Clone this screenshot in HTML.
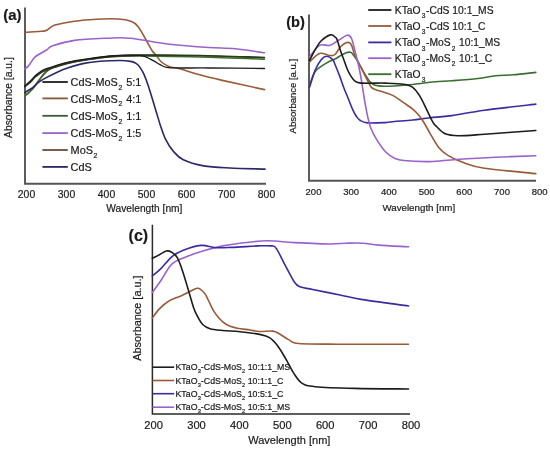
<!DOCTYPE html>
<html><head><meta charset="utf-8"><style>
html,body{margin:0;padding:0;background:#fff;width:550px;height:449px;overflow:hidden}
svg{display:block;will-change:transform}
text{font-family:"Liberation Sans",sans-serif;fill:#1a1a1a;stroke:#1a1a1a;stroke-width:0.2px}
</style></head><body>
<svg width="550" height="449" viewBox="0 0 550 449">
<path d="M25,7.5 V183.8 H266" stroke="#555" stroke-width="1.9" fill="none"/>
<path d="M309,14.5 V180.8 H536" stroke="#555" stroke-width="1.9" fill="none"/>
<path d="M152.4,224.8 V414 H410" stroke="#2a2a2a" stroke-width="1.5" fill="none"/>
<path d="M24.8,32.3 C27.6,32.1 38.2,31.5 41.8,31.2 C45.4,30.9 44.0,31.5 46.2,30.5 C48.4,29.5 50.2,26.7 54.9,25.1 C59.6,23.6 67.6,22.2 74.5,21.2 C81.4,20.2 89.1,19.6 96.4,19.2 C103.7,18.8 112.4,18.7 118.2,19.0 C124.0,19.3 127.7,20.0 131.0,21.2 C134.3,22.4 135.5,23.3 138.0,26.4 C140.5,29.4 143.5,35.5 145.8,39.5 C148.1,43.5 150.3,47.9 152.0,50.5 C153.7,53.1 154.5,53.4 156.1,55.3 C157.7,57.2 159.2,60.1 161.4,62.0 C163.6,63.9 166.4,65.6 169.5,66.7 C172.6,67.8 175.6,67.5 180.0,68.7 C184.4,69.9 188.8,71.8 195.9,73.8 C203.0,75.8 210.9,77.8 222.3,80.4 C233.7,83.0 257.5,88.1 264.5,89.6" stroke="#9a5a38" stroke-width="1.6" fill="none" stroke-linecap="round" stroke-linejoin="round"/>
<path d="M24.8,69.0 C25.4,68.4 26.9,67.6 28.7,65.6 C30.5,63.5 32.4,59.3 35.4,56.7 C38.4,54.1 43.6,51.8 46.5,50.0 C49.4,48.2 48.0,47.4 52.7,45.8 C57.4,44.2 65.4,41.7 74.5,40.4 C83.6,39.1 98.0,38.6 107.3,38.2 C116.5,37.8 119.6,37.2 130.0,38.2 C140.4,39.2 156.3,42.8 169.5,44.3 C182.7,45.8 198.0,46.8 209.0,47.5 C220.0,48.2 226.2,47.9 235.5,48.8 C244.8,49.7 259.7,52.1 264.5,52.7" stroke="#9a62cc" stroke-width="1.6" fill="none" stroke-linecap="round" stroke-linejoin="round"/>
<path d="M24.8,95.5 C25.5,94.9 27.6,93.2 29.0,92.0 C30.4,90.8 31.9,89.5 33.1,88.0 C34.4,86.5 35.3,85.0 36.5,83.3 C37.7,81.6 38.9,79.8 40.4,77.8 C41.9,75.8 44.0,73.2 45.8,71.5 C47.6,69.8 49.3,68.8 51.3,67.8 C53.3,66.8 55.3,66.1 58.0,65.2 C60.7,64.3 63.3,63.4 67.6,62.5 C71.9,61.6 76.9,60.6 84.0,59.6 C91.1,58.6 100.7,56.9 110.0,56.2 C119.3,55.5 125.0,55.3 140.0,55.2 C155.0,55.1 179.2,55.4 200.0,55.8 C220.8,56.2 253.8,57.5 264.5,57.8" stroke="#85583a" stroke-width="1.3" fill="none" stroke-linecap="round" stroke-linejoin="round"/>
<path d="M24.8,96.2 C25.5,95.6 27.6,93.9 29.0,92.6 C30.4,91.3 31.9,89.9 33.1,88.5 C34.4,87.1 35.3,85.6 36.5,84.0 C37.7,82.4 38.9,80.7 40.4,78.8 C41.9,76.9 44.0,74.1 45.8,72.4 C47.6,70.7 49.3,69.5 51.3,68.4 C53.3,67.3 55.3,66.5 58.0,65.6 C60.7,64.7 63.3,63.9 67.6,63.0 C71.9,62.1 76.9,61.0 84.0,60.0 C91.1,59.0 100.7,57.5 110.0,56.8 C119.3,56.1 125.0,56.0 140.0,56.0 C155.0,56.0 179.2,56.5 200.0,57.0 C220.8,57.5 253.8,58.8 264.5,59.2" stroke="#3a6e30" stroke-width="1.5" fill="none" stroke-linecap="round" stroke-linejoin="round"/>
<path d="M24.8,86.8 C25.8,85.9 29.2,83.2 30.9,81.6 C32.6,80.0 33.4,78.6 34.9,77.2 C36.4,75.8 38.2,74.4 40.0,73.2 C41.8,72.0 43.0,71.3 45.8,70.2 C48.6,69.1 53.1,67.7 56.7,66.6 C60.3,65.5 63.0,64.5 67.6,63.4 C72.1,62.3 76.9,61.3 84.0,60.2 C91.1,59.1 100.7,57.4 110.0,56.6 C119.3,55.8 125.0,55.4 140.0,55.2 C155.0,55.0 179.2,55.1 200.0,55.5 C220.8,55.9 253.8,57.2 264.5,57.5" stroke="#2e3a20" stroke-width="1.7" fill="none" stroke-linecap="round" stroke-linejoin="round"/>
<path d="M24.8,85.8 C25.8,84.9 29.2,82.0 30.9,80.4 C32.6,78.8 33.4,77.4 34.9,76.0 C36.4,74.6 38.2,73.2 40.0,72.0 C41.8,70.8 43.0,70.0 45.8,68.9 C48.6,67.8 53.1,66.5 56.7,65.4 C60.3,64.3 63.0,63.3 67.6,62.3 C72.1,61.3 76.9,60.4 84.0,59.4 C91.1,58.4 102.3,56.7 110.0,56.0 C117.7,55.3 124.5,55.1 130.0,55.1 C135.4,55.1 138.8,54.9 142.7,55.8 C146.6,56.7 150.5,59.2 153.4,60.7 C156.3,62.2 157.9,63.6 160.1,64.7 C162.3,65.8 163.5,66.9 166.8,67.4 C170.1,68.0 173.0,67.9 180.0,68.0 C187.0,68.1 194.9,67.9 209.0,68.0 C223.1,68.1 255.2,68.4 264.5,68.5" stroke="#1c1c1c" stroke-width="1.3" fill="none" stroke-linecap="round" stroke-linejoin="round"/>
<path d="M24.8,92.6 C25.4,92.2 27.2,91.0 28.5,90.2 C29.8,89.4 31.1,88.9 32.7,87.6 C34.3,86.3 36.0,84.2 38.2,82.6 C40.4,81.0 42.7,79.6 45.8,77.9 C48.9,76.2 53.1,74.0 56.7,72.4 C60.3,70.8 63.0,69.6 67.6,68.1 C72.1,66.6 78.6,64.5 84.0,63.4 C89.4,62.3 94.0,61.8 100.0,61.3 C106.0,60.8 114.9,60.5 120.0,60.5 C125.1,60.5 128.0,60.9 130.7,61.4 C133.4,61.9 134.4,62.4 136.0,63.4 C137.6,64.4 138.7,65.5 140.0,67.4 C141.3,69.3 142.8,71.6 144.1,74.6 C145.4,77.6 146.7,81.1 148.1,85.3 C149.5,89.5 151.3,95.4 152.7,100.0 C154.1,104.6 155.2,108.5 156.5,112.7 C157.8,116.9 158.9,121.0 160.4,125.4 C161.9,129.8 163.4,134.9 165.5,139.2 C167.6,143.4 170.0,147.5 173.0,150.9 C176.0,154.3 178.2,157.3 183.3,159.8 C188.4,162.3 195.8,164.5 203.6,165.9 C211.4,167.3 219.8,167.5 230.0,168.0 C240.2,168.5 259.2,168.9 265.0,169.1" stroke="#2a2868" stroke-width="1.6" fill="none" stroke-linecap="round" stroke-linejoin="round"/>
<path d="M309.4,86.0 C310.4,83.6 312.3,75.4 315.2,71.5 C318.1,67.6 323.5,64.9 326.8,62.8 C330.1,60.7 332.7,60.2 335.0,59.0 C337.3,57.8 338.8,56.6 340.6,55.6 C342.5,54.6 344.4,53.4 346.1,52.8 C347.8,52.2 349.5,52.0 350.6,52.2 C351.7,52.5 351.9,53.2 352.8,54.3 C353.7,55.4 354.9,56.8 356.2,58.9 C357.5,61.0 359.1,64.1 360.6,66.7 C362.1,69.3 363.6,72.1 365.1,74.5 C366.6,76.9 367.9,79.4 369.5,81.2 C371.1,83.0 372.4,84.5 375.0,85.3 C377.6,86.1 381.8,86.2 385.0,86.3 C388.2,86.4 389.9,86.3 394.5,86.0 C399.1,85.7 406.8,85.1 412.7,84.5 C418.6,83.9 423.5,82.9 430.0,82.3 C436.5,81.7 443.8,81.3 451.8,80.7 C459.8,80.1 470.7,79.3 478.0,78.5 C485.3,77.7 489.7,76.3 495.5,75.7 C501.3,75.1 506.2,75.3 512.9,74.8 C519.6,74.2 532.0,72.8 535.8,72.4" stroke="#3a6e30" stroke-width="1.6" fill="none" stroke-linecap="round" stroke-linejoin="round"/>
<path d="M309.4,87.5 C310.4,84.6 313.3,74.7 315.2,70.1 C317.1,65.5 319.1,62.2 321.0,59.9 C322.9,57.6 324.9,56.3 326.8,56.3 C328.7,56.2 331.2,58.2 332.6,59.6 C334.0,61.0 333.9,61.8 335.0,64.5 C336.1,67.2 338.0,71.7 339.5,75.6 C341.0,79.5 342.6,84.7 343.9,88.0 C345.1,91.3 345.5,91.9 347.0,95.5 C348.5,99.1 351.1,106.1 352.7,109.6 C354.3,113.1 355.3,114.7 356.5,116.5 C357.7,118.3 358.2,119.2 360.0,120.3 C361.8,121.4 363.1,122.5 367.3,122.9 C371.6,123.3 381.0,122.8 385.5,122.6 C390.0,122.4 390.0,121.9 394.5,121.5 C399.0,121.1 406.8,120.6 412.7,120.0 C418.6,119.4 423.5,118.5 430.0,117.8 C436.5,117.1 442.7,116.9 451.8,115.6 C460.9,114.3 470.5,112.1 484.5,110.2 C498.5,108.3 527.2,105.1 535.8,104.1" stroke="#3a2ca0" stroke-width="1.6" fill="none" stroke-linecap="round" stroke-linejoin="round"/>
<path d="M309.4,62.1 C311.1,60.6 316.1,54.5 319.5,53.4 C322.9,52.3 327.1,55.3 329.7,55.5 C332.3,55.7 333.2,56.0 335.0,54.5 C336.8,53.0 338.8,48.7 340.6,46.7 C342.5,44.8 344.6,43.4 346.1,42.8 C347.6,42.1 348.6,42.3 349.5,42.8 C350.4,43.3 350.8,43.5 351.7,45.6 C352.6,47.7 353.7,52.5 355.0,55.6 C356.3,58.8 358.0,61.5 359.5,64.5 C361.0,67.5 362.5,70.4 364.0,73.4 C365.5,76.4 367.1,79.9 368.4,82.3 C369.7,84.7 370.4,86.3 371.7,87.6 C373.0,88.9 374.1,89.2 376.4,90.0 C378.7,90.8 382.5,91.6 385.5,92.7 C388.5,93.8 391.5,94.7 394.5,96.4 C397.5,98.1 400.6,100.6 403.6,102.7 C406.6,104.8 410.3,107.1 412.7,109.1 C415.1,111.1 416.4,112.3 418.2,114.5 C420.0,116.7 421.6,118.9 423.6,122.0 C425.6,125.1 427.5,129.1 430.0,133.3 C432.5,137.5 435.8,143.8 438.7,147.4 C441.6,151.0 443.5,152.6 447.5,155.1 C451.5,157.6 456.5,160.1 462.7,162.3 C468.9,164.5 472.3,166.3 484.5,168.2 C496.7,170.1 527.2,172.7 535.8,173.6" stroke="#9a5a38" stroke-width="1.6" fill="none" stroke-linecap="round" stroke-linejoin="round"/>
<path d="M309.4,57.0 C311.1,55.1 316.1,47.3 319.5,45.4 C322.9,43.5 326.5,46.2 329.7,45.4 C332.9,44.5 335.6,42.0 338.5,40.3 C341.4,38.6 345.0,35.5 347.2,35.2 C349.4,34.9 350.2,35.9 351.5,38.5 C352.8,41.1 353.9,46.8 355.0,51.1 C356.1,55.4 357.4,59.9 358.4,64.5 C359.4,69.2 360.5,74.9 361.2,79.0 C361.9,83.1 362.1,84.6 362.8,89.0 C363.5,93.4 364.6,100.7 365.5,105.5 C366.4,110.3 367.1,114.2 368.0,118.0 C368.9,121.8 369.5,124.7 370.9,128.2 C372.3,131.7 374.0,135.2 376.4,139.1 C378.8,143.0 382.5,148.6 385.5,151.8 C388.5,155.0 391.5,156.8 394.5,158.2 C397.5,159.6 397.7,159.9 403.6,160.5 C409.5,161.1 421.2,161.8 430.0,161.6 C438.8,161.4 445.3,160.2 456.2,159.5 C467.1,158.8 482.2,157.9 495.5,157.3 C508.8,156.7 529.1,156.0 535.8,155.7" stroke="#9a62cc" stroke-width="1.6" fill="none" stroke-linecap="round" stroke-linejoin="round"/>
<path d="M309.4,60.6 C310.4,58.8 313.3,53.0 315.2,49.7 C317.1,46.4 318.4,43.5 321.0,41.0 C323.6,38.5 328.1,35.5 330.5,34.9 C332.9,34.3 334.4,36.5 335.5,37.4 C336.6,38.2 336.3,37.7 337.2,40.0 C338.1,42.3 339.5,47.8 340.6,51.1 C341.7,54.4 342.8,57.0 343.9,60.0 C345.0,63.0 346.1,66.4 347.2,69.0 C348.3,71.6 349.3,73.6 350.6,75.6 C351.9,77.6 353.5,80.0 355.0,81.2 C356.5,82.4 356.9,82.6 359.5,82.9 C362.1,83.2 366.2,83.2 370.5,83.2 C374.8,83.2 380.0,82.9 385.5,83.1 C391.0,83.3 399.1,83.5 403.6,84.2 C408.1,84.9 410.0,85.3 412.7,87.3 C415.4,89.3 417.6,92.5 420.0,96.4 C422.4,100.3 425.2,106.7 427.3,110.9 C429.4,115.1 431.2,119.2 432.7,121.8 C434.2,124.4 434.4,124.5 436.5,126.5 C438.6,128.5 441.7,132.3 445.3,133.8 C448.9,135.3 451.9,135.6 458.4,135.7 C464.9,135.8 471.6,135.1 484.5,134.2 C497.4,133.3 527.2,131.1 535.8,130.5" stroke="#1c1c1c" stroke-width="1.6" fill="none" stroke-linecap="round" stroke-linejoin="round"/>
<path d="M152.3,292.5 C153.7,290.5 157.7,285.2 160.9,280.5 C164.2,275.8 167.6,268.1 171.8,264.1 C176.1,260.2 181.0,259.1 186.4,256.8 C191.8,254.5 198.4,252.3 204.5,250.5 C210.6,248.7 216.8,247.1 222.7,245.9 C228.6,244.7 232.6,244.0 240.0,243.2 C247.4,242.3 258.2,240.9 267.3,240.8 C276.4,240.7 284.1,242.1 294.5,242.6 C304.9,243.1 321.4,243.9 330.0,244.0 C338.6,244.1 340.9,243.3 346.4,243.2 C351.8,243.1 357.2,242.9 362.7,243.2 C368.1,243.5 371.5,244.5 379.1,245.1 C386.8,245.7 403.7,246.5 408.6,246.8" stroke="#9a62cc" stroke-width="1.6" fill="none" stroke-linecap="round" stroke-linejoin="round"/>
<path d="M152.3,275.9 C153.7,274.7 157.7,271.8 160.9,268.6 C164.2,265.4 168.2,259.8 171.8,256.8 C175.4,253.8 177.8,252.4 182.7,250.5 C187.5,248.6 195.4,245.9 200.9,245.4 C206.4,244.9 210.3,247.4 215.5,247.7 C220.7,248.0 224.7,247.7 231.8,247.4 C238.9,247.1 251.5,246.2 258.2,245.9 C264.9,245.7 268.8,245.5 271.8,245.9 C274.8,246.3 274.1,245.3 276.4,248.6 C278.7,251.9 282.5,260.3 285.5,265.9 C288.5,271.5 292.1,278.8 294.5,282.3 C296.9,285.8 297.0,285.6 300.0,286.8 C303.0,288.0 306.0,288.1 312.7,289.5 C319.4,290.9 331.7,293.3 340.0,295.0 C348.3,296.7 351.3,297.8 362.7,299.6 C374.1,301.4 401.0,304.9 408.6,306.0" stroke="#3a2ca0" stroke-width="1.6" fill="none" stroke-linecap="round" stroke-linejoin="round"/>
<path d="M152.3,318.2 C153.4,316.7 156.4,311.9 159.1,309.1 C161.8,306.3 164.6,303.7 168.2,301.5 C171.8,299.3 177.0,297.7 180.9,295.9 C184.8,294.1 188.9,291.8 191.8,290.5 C194.7,289.2 196.1,287.9 198.2,288.3 C200.3,288.8 202.8,291.2 204.5,293.2 C206.2,295.1 206.7,297.1 208.2,300.0 C209.7,302.9 211.8,307.9 213.6,310.9 C215.4,313.9 217.0,315.9 219.1,318.2 C221.2,320.5 223.4,322.8 226.4,324.5 C229.4,326.2 233.4,327.3 237.3,328.2 C241.2,329.1 246.3,329.4 250.0,330.0 C253.7,330.6 255.8,331.3 259.6,331.5 C263.4,331.7 269.4,330.7 272.7,331.1 C276.0,331.5 276.6,332.2 279.3,333.7 C282.0,335.2 285.8,338.3 289.1,339.9 C292.4,341.5 290.7,342.8 298.9,343.5 C307.1,344.2 319.9,344.1 338.2,344.2 C356.5,344.3 396.8,344.2 408.5,344.2" stroke="#9a5a38" stroke-width="1.6" fill="none" stroke-linecap="round" stroke-linejoin="round"/>
<path d="M152.3,258.3 C153.1,257.9 155.0,257.1 157.3,255.9 C159.7,254.7 164.0,251.6 166.4,251.0 C168.8,250.4 170.0,251.2 171.8,252.3 C173.6,253.4 175.5,254.5 177.3,257.7 C179.1,260.9 180.9,266.1 182.7,271.4 C184.5,276.7 186.4,283.4 188.2,289.5 C190.0,295.6 192.1,303.3 193.6,307.7 C195.1,312.1 195.8,313.2 197.3,316.0 C198.8,318.8 200.6,322.4 202.7,324.5 C204.8,326.6 206.7,327.7 210.0,328.7 C213.3,329.7 217.7,330.0 222.7,330.5 C227.7,331.0 233.8,331.1 240.0,331.7 C246.2,332.3 254.7,333.4 259.6,334.4 C264.5,335.4 266.5,335.7 269.5,337.6 C272.5,339.5 274.9,342.2 277.6,345.8 C280.3,349.4 283.1,354.3 285.8,358.9 C288.5,363.5 291.3,369.5 294.0,373.6 C296.7,377.7 298.6,381.2 302.2,383.4 C305.8,385.6 306.6,385.9 315.3,386.7 C324.0,387.5 339.0,388.0 354.5,388.4 C370.0,388.8 399.5,388.9 408.5,389.0" stroke="#1c1c1c" stroke-width="1.6" fill="none" stroke-linecap="round" stroke-linejoin="round"/>
<line x1="42.4" y1="82" x2="67.8" y2="82" stroke="#1c1c1c" stroke-width="1.8"/>
<line x1="42.4" y1="98.4" x2="67.8" y2="98.4" stroke="#85583a" stroke-width="1.8"/>
<line x1="42.4" y1="115.8" x2="67.8" y2="115.8" stroke="#3c5a34" stroke-width="1.8"/>
<line x1="42.4" y1="133.1" x2="67.8" y2="133.1" stroke="#9a62cc" stroke-width="1.8"/>
<line x1="42.4" y1="150" x2="67.8" y2="150" stroke="#6a4a3a" stroke-width="1.8"/>
<line x1="42.4" y1="166.9" x2="67.8" y2="166.9" stroke="#2a2868" stroke-width="1.8"/>
<line x1="368.2" y1="10" x2="391.4" y2="10" stroke="#1c1c1c" stroke-width="1.8"/>
<line x1="368.2" y1="26" x2="391.4" y2="26" stroke="#9a5a38" stroke-width="1.8"/>
<line x1="368.2" y1="42.4" x2="391.4" y2="42.4" stroke="#3a2ca0" stroke-width="1.8"/>
<line x1="368.2" y1="58.2" x2="391.4" y2="58.2" stroke="#9a62cc" stroke-width="1.8"/>
<line x1="368.2" y1="74.2" x2="391.4" y2="74.2" stroke="#3a6e30" stroke-width="1.8"/>
<line x1="152.5" y1="367.2" x2="174.2" y2="367.2" stroke="#1c1c1c" stroke-width="1.6"/>
<line x1="152.5" y1="380.5" x2="174.2" y2="380.5" stroke="#9a5a38" stroke-width="1.6"/>
<line x1="152.5" y1="393.7" x2="174.2" y2="393.7" stroke="#3a2ca0" stroke-width="1.6"/>
<line x1="152.5" y1="407.2" x2="174.2" y2="407.2" stroke="#9a62cc" stroke-width="1.6"/>
<text x="70.6" y="86.2" font-size="10.9" text-anchor="start" font-weight="normal" >CdS-MoS<tspan font-size="6.98" dx="0.6" dy="3.81">2</tspan><tspan dx="0.8" dy="-3.81"> 5:1</tspan></text>
<text x="70.6" y="102.60000000000001" font-size="10.9" text-anchor="start" font-weight="normal" >CdS-MoS<tspan font-size="6.98" dx="0.6" dy="3.81">2</tspan><tspan dx="0.8" dy="-3.81"> 4:1</tspan></text>
<text x="70.6" y="120.0" font-size="10.9" text-anchor="start" font-weight="normal" >CdS-MoS<tspan font-size="6.98" dx="0.6" dy="3.81">2</tspan><tspan dx="0.8" dy="-3.81"> 1:1</tspan></text>
<text x="70.6" y="137.29999999999998" font-size="10.9" text-anchor="start" font-weight="normal" >CdS-MoS<tspan font-size="6.98" dx="0.6" dy="3.81">2</tspan><tspan dx="0.8" dy="-3.81"> 1:5</tspan></text>
<text x="70.6" y="154.2" font-size="10.9" text-anchor="start" font-weight="normal" >MoS<tspan font-size="6.98" dx="0.6" dy="3.81">2</tspan><tspan dx="0.8" dy="-3.81"></tspan></text>
<text x="70.6" y="171.1" font-size="10.9" text-anchor="start" font-weight="normal" >CdS</text>
<text x="394.8" y="13.8" font-size="10.3" text-anchor="start" font-weight="normal" >KTaO<tspan font-size="6.59" dx="1.2" dy="4.33">3</tspan><tspan dx="0.6" dy="-4.33">-CdS 10:1_MS</tspan></text>
<text x="394.8" y="29.8" font-size="10.3" text-anchor="start" font-weight="normal" >KTaO<tspan font-size="6.59" dx="1.2" dy="4.33">3</tspan><tspan dx="0.6" dy="-4.33">-CdS 10:1_C</tspan></text>
<text x="394.8" y="46.199999999999996" font-size="10.3" text-anchor="start" font-weight="normal" >KTaO<tspan font-size="6.59" dx="1.2" dy="4.33">3</tspan><tspan dx="0.6" dy="-4.33">-MoS</tspan><tspan font-size="6.59" dx="1.2" dy="4.33">2</tspan><tspan dx="0.6" dy="-4.33"> 10:1_MS</tspan></text>
<text x="394.8" y="62.0" font-size="10.3" text-anchor="start" font-weight="normal" >KTaO<tspan font-size="6.59" dx="1.2" dy="4.33">3</tspan><tspan dx="0.6" dy="-4.33">-MoS</tspan><tspan font-size="6.59" dx="1.2" dy="4.33">2</tspan><tspan dx="0.6" dy="-4.33"> 10:1_C</tspan></text>
<text x="394.8" y="78.0" font-size="10.3" text-anchor="start" font-weight="normal" >KTaO<tspan font-size="6.59" dx="1.2" dy="4.33">3</tspan><tspan dx="0.6" dy="-4.33"></tspan></text>
<text x="175.5" y="370.4" font-size="8.8" text-anchor="start" font-weight="normal" >KTaO<tspan font-size="5.63" dx="0.2" dy="2.90">3</tspan><tspan dx="0.0" dy="-2.90">-CdS-MoS</tspan><tspan font-size="5.63" dx="0.2" dy="2.90">2</tspan><tspan dx="0.0" dy="-2.90"> 10:1:1_MS</tspan></text>
<text x="175.5" y="383.7" font-size="8.8" text-anchor="start" font-weight="normal" >KTaO<tspan font-size="5.63" dx="0.2" dy="2.90">3</tspan><tspan dx="0.0" dy="-2.90">-CdS-MoS</tspan><tspan font-size="5.63" dx="0.2" dy="2.90">2</tspan><tspan dx="0.0" dy="-2.90"> 10:1:1_C</tspan></text>
<text x="175.5" y="396.9" font-size="8.8" text-anchor="start" font-weight="normal" >KTaO<tspan font-size="5.63" dx="0.2" dy="2.90">3</tspan><tspan dx="0.0" dy="-2.90">-CdS-MoS</tspan><tspan font-size="5.63" dx="0.2" dy="2.90">2</tspan><tspan dx="0.0" dy="-2.90"> 10:5:1_C</tspan></text>
<text x="175.5" y="410.4" font-size="8.8" text-anchor="start" font-weight="normal" >KTaO<tspan font-size="5.63" dx="0.2" dy="2.90">3</tspan><tspan dx="0.0" dy="-2.90">-CdS-MoS</tspan><tspan font-size="5.63" dx="0.2" dy="2.90">2</tspan><tspan dx="0.0" dy="-2.90"> 10:5:1_MS</tspan></text>
<text x="26.5" y="198" font-size="10.4" text-anchor="middle" font-weight="normal" >200</text>
<text x="313.5" y="194.7" font-size="9.5" text-anchor="middle" font-weight="normal" >200</text>
<text x="153.6" y="429.4" font-size="11.15" text-anchor="middle" font-weight="normal" >200</text>
<text x="66.5" y="198" font-size="10.4" text-anchor="middle" font-weight="normal" >300</text>
<text x="351.2" y="194.7" font-size="9.5" text-anchor="middle" font-weight="normal" >300</text>
<text x="196.5" y="429.4" font-size="11.15" text-anchor="middle" font-weight="normal" >300</text>
<text x="106.5" y="198" font-size="10.4" text-anchor="middle" font-weight="normal" >400</text>
<text x="388.9" y="194.7" font-size="9.5" text-anchor="middle" font-weight="normal" >400</text>
<text x="239.4" y="429.4" font-size="11.15" text-anchor="middle" font-weight="normal" >400</text>
<text x="146.5" y="198" font-size="10.4" text-anchor="middle" font-weight="normal" >500</text>
<text x="426.6" y="194.7" font-size="9.5" text-anchor="middle" font-weight="normal" >500</text>
<text x="282.3" y="429.4" font-size="11.15" text-anchor="middle" font-weight="normal" >500</text>
<text x="186.5" y="198" font-size="10.4" text-anchor="middle" font-weight="normal" >600</text>
<text x="464.3" y="194.7" font-size="9.5" text-anchor="middle" font-weight="normal" >600</text>
<text x="325.2" y="429.4" font-size="11.15" text-anchor="middle" font-weight="normal" >600</text>
<text x="226.5" y="198" font-size="10.4" text-anchor="middle" font-weight="normal" >700</text>
<text x="502.0" y="194.7" font-size="9.5" text-anchor="middle" font-weight="normal" >700</text>
<text x="368.1" y="429.4" font-size="11.15" text-anchor="middle" font-weight="normal" >700</text>
<text x="266.5" y="198" font-size="10.4" text-anchor="middle" font-weight="normal" >800</text>
<text x="539.7" y="194.7" font-size="9.5" text-anchor="middle" font-weight="normal" >800</text>
<text x="411.0" y="429.4" font-size="11.15" text-anchor="middle" font-weight="normal" >800</text>
<text x="144.4" y="212.3" font-size="10.2" text-anchor="middle" font-weight="normal" >Wavelength [nm]</text>
<text x="418.8" y="211.4" font-size="9.75" text-anchor="middle" font-weight="normal" >Wavelength [nm]</text>
<text x="289.3" y="444" font-size="11" text-anchor="middle" font-weight="normal" >Wavelength [nm]</text>
<text x="0" y="0" font-size="10.3" text-anchor="middle" font-weight="normal" transform="translate(12.3,97.6) rotate(-90)">Absorbance [a.u.]</text>
<text x="0" y="0" font-size="9.5" text-anchor="middle" font-weight="normal" transform="translate(296.1,96.2) rotate(-90)">Absorbance [a.u.]</text>
<text x="0" y="0" font-size="10.9" text-anchor="middle" font-weight="normal" transform="translate(141,318.1) rotate(-90)">Absorbance [a.u.]</text>
<text x="3.2" y="20.2" font-size="15.0" text-anchor="start" font-weight="bold" >(a)</text>
<text x="286.2" y="26.7" font-size="14.6" text-anchor="start" font-weight="bold" >(b)</text>
<text x="128.6" y="240.9" font-size="16.0" text-anchor="start" font-weight="bold" >(c)</text>
</svg>
</body></html>
